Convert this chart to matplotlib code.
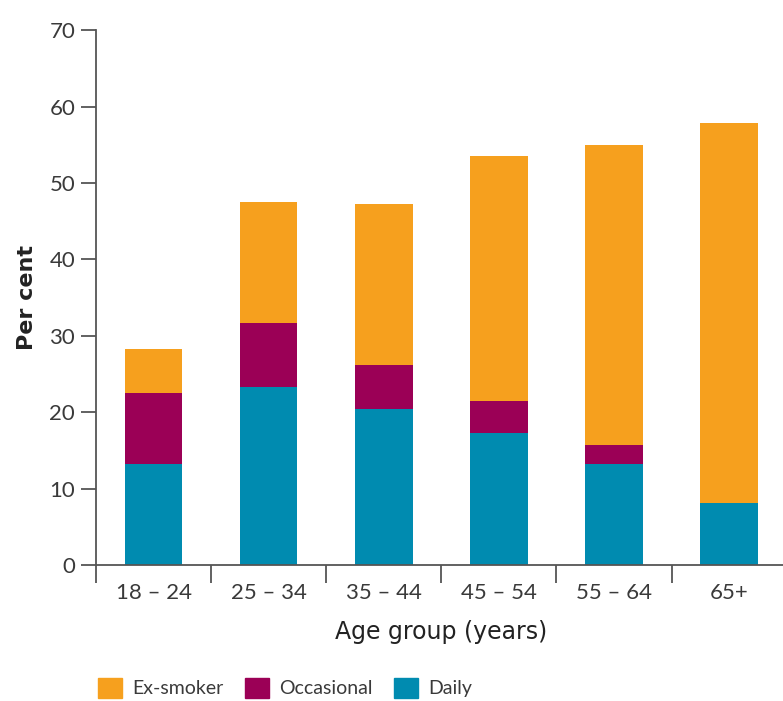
import matplotlib
matplotlib.use("Agg")
import matplotlib.pyplot as plt
import matplotlib.patches as mpatches
import numpy as np

plt.rcParams['font.family'] = ['Lato', 'DejaVu Sans']

# data
age_groups = ['18 \u2013 24', '25 \u2013 34', '35 \u2013 44', '45 \u2013 54', '55 \u2013 64', '65+']
daily = [13.2, 23.3, 20.4, 17.3, 13.2, 8.1]
occasional = [9.3, 8.4, 5.8, 4.2, 2.5, 0.0]
ex_smoker = [5.8, 15.8, 21.0, 32.0, 39.3, 49.7]

c_ex = '#F6A01E'
c_occ = '#9B0056'
c_daily = '#008BB0'
axis_col = '#555555'
text_col = '#3a3a3a'

fig = plt.figure(figsize=(7.83, 7.01), dpi=100)
ax = fig.add_axes([0.1226, 0.194, 0.882, 0.763])

x = np.arange(len(age_groups))
d = np.array(daily)
o = np.array(occasional)
e = np.array(ex_smoker)
ax.bar(x, d, width=0.5, color=c_daily)
ax.bar(x, o, width=0.5, bottom=d, color=c_occ)
ax.bar(x, e, width=0.5, bottom=d + o, color=c_ex)

ax.set_xlim(-0.5, 5.5)
ax.set_ylim(0, 70)
ax.set_yticks(range(0, 71, 10))
ax.set_xticks(x)
ax.set_xticklabels(age_groups)
ax.set_xticks(np.arange(-0.5, 5.6, 1), minor=True)

for s in ['top', 'right']:
    ax.spines[s].set_visible(False)
for s in ['left', 'bottom']:
    ax.spines[s].set_color(axis_col)
    ax.spines[s].set_linewidth(1.3)

ax.tick_params(axis='y', direction='out', length=11, width=1.3, color=axis_col,
               labelsize=16, labelcolor=text_col, pad=4)
ax.tick_params(axis='x', which='major', length=0, labelsize=16, labelcolor=text_col, pad=13)
ax.tick_params(axis='x', which='minor', direction='out', length=13, width=1.3, color=axis_col)

ax.set_ylabel('Per cent', fontsize=16, fontweight='bold', color='#222222', labelpad=9,
              family=['DejaVu Sans'])
ax.set_xlabel('Age group (years)', fontsize=17, color='#222222', labelpad=12,
              family=['DejaVu Sans'])

handles = [mpatches.Patch(color=c_ex, label='Ex-smoker'),
           mpatches.Patch(color=c_occ, label='Occasional'),
           mpatches.Patch(color=c_daily, label='Daily')]
leg = fig.legend(handles=handles, ncol=3, loc='lower left',
                 bbox_to_anchor=(0.103, -0.02), frameon=False,
                 fontsize=14, handlelength=1.25, handleheight=1.2,
                 handletextpad=0.5, columnspacing=1.1)
for t in leg.get_texts():
    t.set_color(text_col)

fig.savefig('out.png', dpi=100, facecolor='white')
